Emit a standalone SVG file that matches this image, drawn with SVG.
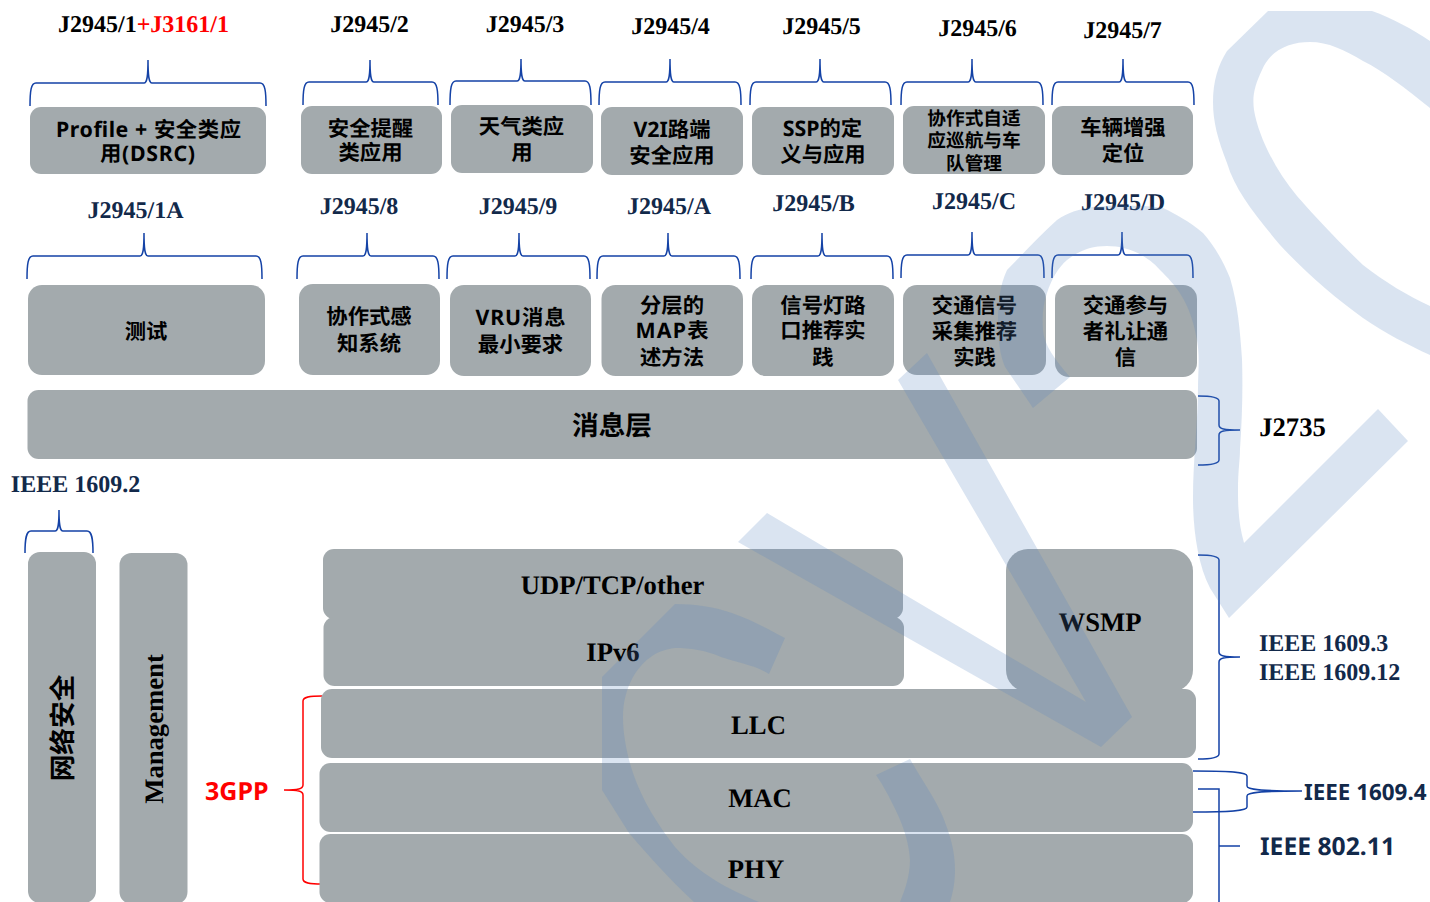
<svg xmlns="http://www.w3.org/2000/svg" width="1430" height="902" viewBox="0 0 1430 902" text-rendering="geometricPrecision">
<style>
.b{fill:#a3aaad}
.s{font-family:"Liberation Serif",serif;font-weight:700;font-size:24px;text-anchor:middle;fill:#000}
.n{fill:#12294a}
.l{font-size:26.67px}
.c{font-family:"Noto Sans","Noto Sans CJK SC",sans-serif;font-weight:700;font-size:21.33px;text-anchor:middle;fill:#000}
.c2{font-size:18.67px}
.c3{font-size:26.67px}
.i{font-family:"Noto Sans",sans-serif;font-weight:700;fill:#12294a}
.br{fill:none;stroke:#1442a6;stroke-width:1.5}
.wm{fill:#5584bf;fill-opacity:.22}
</style>
<rect width="1430" height="902" fill="#fff"/>
<g id="connectors">
<path class="br" d="M30,106C30,91 31,83 36,83H144C147,83 148,77 148,60C148,77 149,83 152,83H260C265,83 266,91 266,106"/>
<path class="br" d="M303,105C303,90 304,82 309,82H366C369,82 370,76 370,60C370,76 371,82 374,82H432C437,82 438,90 438,105"/>
<path class="br" d="M450,105C450,89 451,81 456,81H517C520,81 521,75 521,59C521,75 522,81 525,81H585C590,81 591,89 591,105"/>
<path class="br" d="M599,105C599,90 600,82 605,82H666C669,82 670,76 670,59C670,76 671,82 674,82H735C740,82 741,90 741,105"/>
<path class="br" d="M750,105C750,90 751,82 756,82H816C819,82 820,76 820,59C820,76 821,82 824,82H885C890,82 891,90 891,105"/>
<path class="br" d="M901,105C901,90 902,82 907,82H968C971,82 972,76 972,59C972,76 973,82 976,82H1037C1042,82 1043,90 1043,105"/>
<path class="br" d="M1052,105C1052,90 1053,82 1058,82H1119C1122,82 1123,76 1123,59C1123,76 1124,82 1127,82H1188C1193,82 1194,90 1194,105"/>
<path class="br" d="M27,279C27,264 28,256 33,256H140C143,256 144,250 144,233C144,250 145,256 148,256H256C261,256 262,264 262,279"/>
<path class="br" d="M297,279C297,264 298,256 303,256H363C366,256 367,250 367,233C367,250 368,256 371,256H433C438,256 439,264 439,279"/>
<path class="br" d="M447,279C447,264 448,256 453,256H515C518,256 519,250 519,233C519,250 520,256 523,256H584C589,256 590,264 590,279"/>
<path class="br" d="M597,279C597,264 598,256 603,256H664C667,256 668,250 668,233C668,250 669,256 672,256H734C739,256 740,264 740,279"/>
<path class="br" d="M751,279C751,264 752,256 757,256H818C821,256 822,250 822,233C822,250 823,256 826,256H887C892,256 893,264 893,279"/>
<path class="br" d="M901,278C901,263 902,255 907,255H968C971,255 972,249 972,232C972,249 973,255 976,255H1038C1043,255 1044,263 1044,278"/>
<path class="br" d="M1052,278C1052,263 1053,255 1058,255H1118C1121,255 1122,249 1122,232C1122,249 1123,255 1126,255H1187C1192,255 1193,263 1193,278"/>
<path class="br" d="M25,553C25,539 26,531 31,531H55C58,531 59,526 59,510C59,526 60,531 63,531H87C92,531 93,539 93,553"/>
<path class="br" d="M1198,396C1211,396 1219,397 1219,401V425C1219,429 1224,430 1240,430C1224,430 1219,431 1219,435V460C1219,464 1211,465 1198,465"/>
<path class="br" d="M1198,555C1211,555 1219,556 1219,560V652C1219,656 1224,657 1240,657C1224,657 1219,658 1219,662V754C1219,758 1211,759 1198,759"/>
<path class="br" d="M1193,771C1230,771 1247,772 1247,776V786C1247,790 1262,791 1302,791C1262,791 1247,792 1247,796V807C1247,811 1230,812 1193,812"/>
<path class="br" d="M1198,789H1219V902M1219,846H1240"/>
<path class="br" style="stroke:#f00" d="M322,696C309,696 303,697 303,701V785C303,789 298,790 284,790C298,790 303,791 303,795V879C303,883 309,884 322,884"/>
</g>
<g id="labels-top">
<text class="s" x="143.500" y="32">J2945/1<tspan fill="#f00">+J3161/1</tspan></text>
<text class="s" x="369.500" y="32">J2945/2</text>
<text class="s" x="525" y="32">J2945/3</text>
<text class="s" x="670.500" y="34">J2945/4</text>
<text class="s" x="821.500" y="34">J2945/5</text>
<text class="s" x="977.500" y="36">J2945/6</text>
<text class="s" x="1122.500" y="38">J2945/7</text>
<text class="s n" x="135.500" y="218">J2945/1A</text>
<text class="s n" x="359" y="214">J2945/8</text>
<text class="s n" x="518" y="214">J2945/9</text>
<text class="s n" x="669" y="214">J2945/A</text>
<text class="s n" x="813.500" y="211">J2945/B</text>
<text class="s n" x="974" y="209">J2945/C</text>
<text class="s n" x="1123" y="210">J2945/D</text>
<text class="s n" x="75.500" y="492">IEEE 1609.2</text>
<text class="s l" x="1292.500" y="436">J2735</text>
<text class="s n" x="1259" y="651" style="text-anchor:start">IEEE 1609.3</text>
<text class="s n" x="1259" y="680" style="text-anchor:start">IEEE 1609.12</text>
<text class="i" x="205" y="800" font-size="25" style="fill:#f00">3GPP</text>
<text class="i" x="1304" y="800" font-size="22.400">IEEE 1609.4</text>
<text class="i" x="1260" y="855" font-size="24.700">IEEE 802.11</text>
</g>
<g id="n1"><rect class="b" x="30" y="107" width="236" height="67" rx="11"/><text class="c" x="148.500" y="137" textLength="185">Profile + 安全类应</text><text class="c" x="147.500" y="161" textLength="95">用(DSRC)</text></g>
<g id="n2"><rect class="b" x="301" y="106" width="141" height="68" rx="11"/><text class="c" x="370.500" y="136">安全提醒</text><text class="c" x="370.500" y="160">类应用</text></g>
<g id="n3"><rect class="b" x="451" y="105" width="142" height="68" rx="11"/><text class="c" x="521.500" y="134">天气类应</text><text class="c" x="522" y="160">用</text></g>
<g id="n4"><rect class="b" x="601" y="107" width="142" height="68" rx="11"/><text class="c" x="672" y="137">V2I路端</text><text class="c" x="672" y="163">安全应用</text></g>
<g id="n5"><rect class="b" x="752" y="107" width="142" height="68" rx="11"/><text class="c" x="822.500" y="136">SSP的定</text><text class="c" x="823" y="162">义与应用</text></g>
<g id="n6"><rect class="b" x="903" y="106" width="142" height="68" rx="11"/><text class="c c2" x="974" y="125">协作式自适</text><text class="c c2" x="974" y="147">应巡航与车</text><text class="c c2" x="974" y="170">队管理</text></g>
<g id="n7"><rect class="b" x="1052" y="106" width="141" height="69" rx="11"/><text class="c" x="1123" y="135">车辆增强</text><text class="c" x="1123" y="161">定位</text></g>
<g id="n8"><rect class="b" x="28" y="285" width="237" height="90" rx="14"/><text class="c" x="146" y="339">测试</text></g>
<g id="n9"><rect class="b" x="299" y="284" width="141" height="91" rx="14"/><text class="c" x="369" y="324">协作式感</text><text class="c" x="369" y="351">知系统</text></g>
<g id="n10"><rect class="b" x="450" y="285" width="141" height="91" rx="14"/><text class="c" x="520.500" y="325" textLength="90">VRU消息</text><text class="c" x="520.500" y="352">最小要求</text></g>
<g id="n11"><rect class="b" x="601.500" y="285" width="141.500" height="91" rx="14"/><text class="c" x="672" y="313">分层的</text><text class="c" x="672" y="338" textLength="73">MAP表</text><text class="c" x="672" y="365">述方法</text></g>
<g id="n12"><rect class="b" x="752" y="285" width="142" height="91" rx="14"/><text class="c" x="823" y="313">信号灯路</text><text class="c" x="823" y="338">口推荐实</text><text class="c" x="823" y="365">践</text></g>
<g id="n13"><rect class="b" x="903" y="285" width="143" height="90" rx="14"/><text class="c" x="974.500" y="313">交通信号</text><text class="c" x="974.500" y="339">采集推荐</text><text class="c" x="974.500" y="365">实践</text></g>
<g id="n14"><rect class="b" x="1055" y="285" width="142" height="92" rx="14"/><text class="c" x="1125.500" y="313">交通参与</text><text class="c" x="1125.500" y="339">者礼让通</text><text class="c" x="1125.500" y="365">信</text></g>
<g id="n15"><rect class="b" x="27.500" y="390" width="1169.500" height="69" rx="11"/><text class="c c3" x="612" y="435">消息层</text></g>
<g id="n16"><rect class="b" x="28" y="552" width="68" height="351" rx="12"/><text class="c c3" transform="translate(72,728) rotate(-90)">网络安全</text></g>
<g id="n17"><rect class="b" x="119.500" y="553" width="68" height="351" rx="12"/><text class="s l" transform="translate(163,729) rotate(-90)">Management</text></g>
<g id="n18"><rect class="b" x="323" y="549" width="580" height="70" rx="11"/><text class="s l" x="612.500" y="594">UDP/TCP/other</text></g>
<g id="n19"><rect class="b" x="323.500" y="617" width="580.500" height="69" rx="11"/><text class="s l" x="613" y="661">IPv6</text></g>
<g id="n20"><rect class="b" x="1006" y="549" width="187" height="143" rx="22"/><text class="s l" x="1100" y="631">WSMP</text></g>
<g id="n21"><rect class="b" x="321" y="689" width="875" height="69" rx="11"/><text class="s l" x="758.500" y="734">LLC</text></g>
<g id="n22"><rect class="b" x="319.500" y="763" width="873.500" height="69" rx="11"/><text class="s l" x="760" y="807">MAC</text></g>
<g id="n23"><rect class="b" x="319.500" y="834" width="873.500" height="69" rx="11"/><text class="s l" x="756" y="878">PHY</text></g>
<g id="watermark">
<path class="wm" d="M1268,11H1372C1392,18 1412,29 1430,41V108C1405,88 1385,72 1363,61C1345,50 1328,42 1310,42C1290,42 1270,50 1262,70C1255,85 1252,95 1254,110C1258,135 1275,170 1297,196C1318,220 1340,243 1363,265C1385,282 1408,296 1430,306V355C1408,345 1385,333 1363,318C1335,298 1305,272 1280,245C1255,215 1235,190 1227,163C1218,140 1213,122 1213,102C1213,82 1218,65 1227,51Z"/>
<path class="wm" d="M1033,408L1070,377C1055,360 1044,345 1043,330C1042,315 1043,305 1047,293C1052,278 1058,268 1067,260C1080,250 1092,246 1107,246C1125,246 1145,253 1160,270C1175,285 1190,300 1197,340C1200,358 1198,372 1198,388C1198,420 1193,460 1193,498C1193,530 1198,565 1210,588L1229,618L1408,441L1378,409L1244,543C1239,525 1238,510 1238,490C1238,470 1240,460 1240,449C1242,420 1243,390 1242,359C1240,330 1238,305 1230,278C1222,258 1212,243 1203,233C1190,222 1176,214 1163,208C1140,205 1115,205 1093,207C1080,209 1068,212 1057,220C1040,235 1022,255 1007,270C1000,285 998,302 998,320C998,340 1000,355 1005,367Z"/>
<path class="wm" d="M898,380L927,353L1132,717L1101,747L738,542L767,513L1086,702Z"/>
<path class="wm" d="M675,604C695,604 715,607 732,613C752,620 770,630 785,638L769,674C755,665 738,663 721,657C705,650 690,648 675,648C655,650 642,662 633,677C626,690 623,703 623,717C623,735 627,755 633,773C642,800 658,825 675,847C700,875 730,890 759,902H694C670,880 648,855 629,833L602,790V677Z"/>
<path class="wm" d="M876,775L910,759C925,785 936,800 943,817C950,835 955,850 955,870C955,882 953,893 950,902H900C905,890 910,875 910,860C909,845 905,830 897,813C890,798 883,785 876,775Z"/>
</g>
</svg>
